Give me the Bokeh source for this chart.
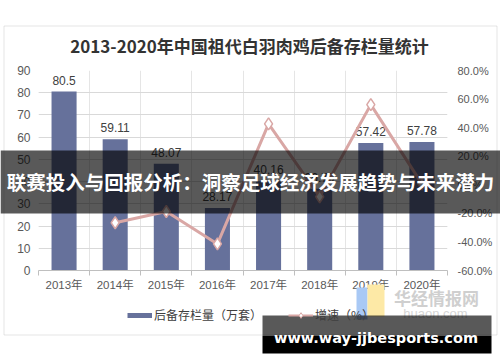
from bokeh.plotting import figure
from bokeh.models import (Range1d, LinearAxis, FixedTicker, PrintfTickFormatter, Grid,
                          Label, BoxAnnotation, Legend, LegendItem)
from bokeh.core.properties import value
from bokeh.embed import file_html
from bokeh.resources import INLINE

# ---------------- data ----------------
title_text = "2013-2020年中国祖代白羽肉鸡后备存栏量统计"
years = ["2013年", "2014年", "2015年", "2016年", "2017年", "2018年", "2019年", "2020年"]
stock = [80.5, 59.11, 48.07, 28.17, 40.16, 36.79, 57.42, 57.78]
growth = [float("nan"), -26.6, -18.7, -41.4, 42.6, -8.4, 56.1, 0.6]
stock_ticks = [0, 10, 20, 30, 40, 50, 60, 70, 80, 90]
growth_ticks = [-60, -40, -20, 0, 20, 40, 60, 80]
series_names = ["后备存栏量（万套）", "增速（%）"]
banner_text = "联赛投入与回报分析：洞察足球经济发展趋势与未来潜力"
site_text = "www.way-jjbesports.com"
logo_cn = "华经情报网"
logo_en = "huaon.com"

BAR = "#66719b"
LINE = "#d9a7a5"
LATIN = "Liberation Sans, Arial, Noto Sans CJK SC, sans-serif"
CJK = "Noto Sans CJK SC, sans-serif"

W, H = 500, 362

# ---------------- main chart ----------------
p = figure(width=W, height=H, output_backend="svg", toolbar_location=None,
           x_range=Range1d(0, len(years)), y_range=Range1d(stock_ticks[0], stock_ticks[-1]),
           x_axis_location=None, y_axis_location=None,
           min_border_left=38, min_border_right=53, min_border_top=70, min_border_bottom=92,
           outline_line_color=None, background_fill_color="white", border_fill_color="white")
p.extra_y_ranges = {"pct": Range1d(growth_ticks[0], growth_ticks[-1])}

xc = [i + 0.5 for i in range(len(years))]

p.add_layout(Grid(dimension=1, ticker=FixedTicker(ticks=stock_ticks),
                  grid_line_color="#d9d9d9", grid_line_width=1))

xaxis = LinearAxis(ticker=FixedTicker(ticks=xc, minor_ticks=list(range(len(years) + 1))),
                   major_label_overrides={c: y for c, y in zip(xc, years)},
                   major_tick_line_color=None, major_tick_in=0, major_tick_out=0,
                   minor_tick_in=0, minor_tick_out=5, minor_tick_line_color="#bfbfbf",
                   axis_line_color="#bfbfbf", major_label_standoff=3,
                   major_label_text_font=LATIN, major_label_text_font_size="11.5px",
                   major_label_text_color="#595959")
p.add_layout(xaxis, "below")

yaxis = LinearAxis(ticker=FixedTicker(ticks=stock_ticks), axis_line_color=None,
                   major_tick_line_color=None, major_tick_in=0, major_tick_out=0,
                   minor_tick_line_color=None, major_label_standoff=8,
                   major_label_text_font=LATIN, major_label_text_font_size="12px",
                   major_label_text_color="#595959")
p.add_layout(yaxis, "left")

raxis = LinearAxis(y_range_name="pct", ticker=FixedTicker(ticks=growth_ticks),
                   formatter=PrintfTickFormatter(format="%.1f%%"), axis_line_color=None,
                   major_tick_line_color=None, major_tick_in=0, major_tick_out=0,
                   minor_tick_line_color=None, major_label_standoff=10,
                   major_label_text_font=LATIN, major_label_text_font_size="11px",
                   major_label_text_color="#595959")
p.add_layout(raxis, "right")

p.vbar(x=xc, top=stock, bottom=0, width=0.49, fill_color=BAR, line_color=None)
p.text(x=xc, y=stock, text=[f"{v:g}" for v in stock], text_align="center",
       text_baseline="bottom", y_offset=-7, text_font=value(LATIN),
       text_font_size="12px", text_color="#404040")

p.line(x=xc, y=growth, y_range_name="pct", line_color=LINE, line_width=3)
p.scatter(x=xc, y=growth, y_range_name="pct", marker="diamond", size=12,
          fill_color="white", line_color=LINE, line_width=1.5)

# ---------------- overlay (page pixel coordinates) ----------------
o = figure(width=W, height=H, output_backend="svg", toolbar_location=None,
           x_range=Range1d(0, W), y_range=Range1d(H, 0),
           x_axis_location=None, y_axis_location=None, min_border=0,
           outline_line_color=None, background_fill_color=None, border_fill_color=None)
o.xgrid.visible = False
o.ygrid.visible = False
o.styles = {"position": "absolute", "left": "0px", "top": "0px"}

nan = [float("nan")]
bar_key = o.line(x=nan, y=nan, line_color=BAR, line_width=5)
line_key = o.line(x=nan, y=nan, line_color=LINE, line_width=2)
pt_key = o.scatter(x=nan, y=nan, marker="diamond", size=8, fill_color="white",
                   line_color=LINE, line_width=1)

# chart frame border
o.add_layout(BoxAnnotation(left=3.5, right=496.5, top=25.5, bottom=334.5, fill_alpha=0,
                           line_color="#a6a6a6", line_width=1))
o.add_layout(Label(x=249, y=45, text=title_text, text_align="center", text_baseline="middle",
                   text_font=CJK, text_font_style="bold", text_font_size="17px",
                   text_color="#333333"))

legend = Legend(items=[LegendItem(label=series_names[0], renderers=[bar_key]),
                       LegendItem(label=series_names[1], renderers=[line_key, pt_key])],
                orientation="horizontal", location=(127, H - 323), glyph_width=25,
                glyph_height=14, label_height=14, label_standoff=2, spacing=26, padding=0,
                margin=0, border_line_color=None, background_fill_alpha=0,
                label_text_font=CJK, label_text_font_size="12px", label_text_color="#404040")
o.add_layout(legend, "center")

# logo watermark
o.add_layout(BoxAnnotation(left=356, right=367, top=287, bottom=319, fill_color="#a9c9f5",
                           fill_alpha=1, line_color=None))
o.add_layout(BoxAnnotation(left=367, right=384, top=284, bottom=316, fill_color="#fde9a6",
                           fill_alpha=1, line_color=None))
o.add_layout(Label(x=436, y=297, text=logo_cn, text_align="center", text_baseline="middle",
                   text_font=CJK, text_font_style="bold", text_font_size="17px",
                   text_color="#cfcfcf"))
o.add_layout(Label(x=435, y=313, text=logo_en, text_align="center", text_baseline="middle",
                   text_font=LATIN, text_font_size="13px", text_color="#d6d6d6"))

# banner overlay
o.add_layout(BoxAnnotation(left=0, right=W, top=150, bottom=213, fill_color="black",
                           fill_alpha=0.65, line_color=None))
o.add_layout(Label(x=250, y=181, text=banner_text, text_align="center", text_baseline="middle",
                   text_font=CJK, text_font_style="bold", text_font_size="19.5px",
                   text_color="white"))

# site watermark
o.add_layout(BoxAnnotation(left=262, right=491, top=315, bottom=335.5, fill_color="black",
                           fill_alpha=0.65, line_color=None))
o.add_layout(BoxAnnotation(left=262, right=491, top=335.5, bottom=353, fill_color="black",
                           fill_alpha=1, line_color=None))
o.add_layout(Label(x=375.5, y=337, text=site_text, text_align="center", text_baseline="middle",
                   text_font="DejaVu Sans", text_font_style="bold", text_font_size="14.5px",
                   text_color="white"))

open("out.html", "w").write(file_html([p, o], INLINE))
